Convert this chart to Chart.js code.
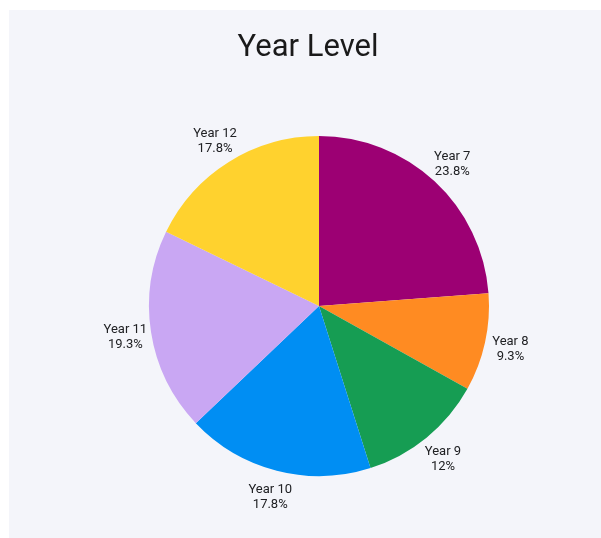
<!DOCTYPE html>
<html>
<head>
<meta charset="utf-8">
<script src="https://cdn.jsdelivr.net/npm/chart.js@4.4.1/dist/chart.umd.min.js"></script>
<style>
    html, body { margin: 0; padding: 0; background: #ffffff; }
    #panel { position: absolute; left: 9px; top: 10px; width: 592px; height: 528px; background: #f4f5fa; }
</style>
</head>
<body>
<div id="panel"><canvas id="yearChart" width="592" height="528"></canvas></div>
<script>
const yearLabels = ['Year 7', 'Year 8', 'Year 9', 'Year 10', 'Year 11', 'Year 12'];
const yearShares = [23.8, 9.3, 12, 17.8, 19.3, 17.8];
const sliceColors = ['#9c0073', '#ff8b22', '#169d53', '#008ef3', '#c9a7f3', '#ffd22e'];

// labels outside each slice: name on top, share below
const outsideLabels = {
    id: 'outsideLabels',
    afterDatasetsDraw(chart) {
        const ctx = chart.ctx;
        const meta = chart.getDatasetMeta(0);
        ctx.save();
        ctx.font = '13px Roboto';
        ctx.fillStyle = '#202124';
        ctx.textAlign = 'center';
        ctx.textBaseline = 'middle';
        meta.data.forEach(function (arc, i) {
            const mid = (arc.startAngle + arc.endAngle) / 2;
            const r = arc.outerRadius + 26;
            const x = arc.x + Math.cos(mid) * r;
            const y = arc.y + Math.sin(mid) * r + 1.5;
            ctx.fillText(chart.data.labels[i], x, y - 7.5);
            ctx.fillText(chart.data.datasets[0].data[i] + '%', x, y + 7.5);
        });
        ctx.restore();
    }
};

new Chart(document.getElementById('yearChart'), {
    type: 'pie',
    data: {
        labels: yearLabels,
        datasets: [{
            data: yearShares,
            backgroundColor: sliceColors,
            borderWidth: 0
        }]
    },
    options: {
        responsive: false,
        animation: false,
        layout: { padding: { left: 6, right: 0, top: 0, bottom: 62 } },
        plugins: {
            title: {
                display: true,
                text: 'Year Level',
                color: '#1a1a1a',
                font: { family: 'Roboto', size: 31, weight: 'normal' },
                padding: { top: 20, bottom: 68.8 }
            },
            // empty legend on the left just to nudge the pie right of the title
            legend: {
                display: true,
                position: 'left',
                labels: { padding: 12, generateLabels: () => [] }
            },
            tooltip: { enabled: false }
        }
    },
    plugins: [outsideLabels]
});
</script>
</body>
</html>
